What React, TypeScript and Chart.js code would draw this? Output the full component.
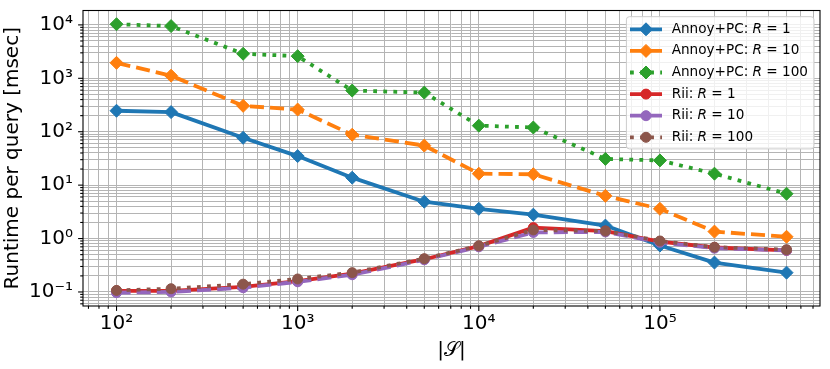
import React, { useEffect, useRef } from 'react';
import { Chart, registerables } from 'chart.js';

Chart.register(...registerables);

// ---------------- data ----------------
const sizes = [100, 200, 500, 1000, 2000, 5000, 10000, 20000, 50000, 100000, 200000, 500000];
const annoyR1 = [247, 233, 77, 35, 13.8, 4.9, 3.6, 2.8, 1.75, 0.74, 0.355, 0.23];
const annoyR10 = [1950, 1120, 305, 260, 88, 55, 16.4, 16, 6.3, 3.6, 1.35, 1.08];
const annoyR100 = [10300, 9500, 2880, 2600, 590, 540, 130, 120, 31, 29, 16.4, 6.9];
const riiR1 = [0.105, 0.105, 0.125, 0.16, 0.22, 0.41, 0.72, 1.6, 1.38, 0.88, 0.68, 0.6];
const riiR10 = [0.097, 0.1, 0.12, 0.155, 0.21, 0.4, 0.7, 1.3, 1.33, 0.85, 0.66, 0.6];
const riiR100 = [0.107, 0.115, 0.14, 0.175, 0.23, 0.42, 0.73, 1.45, 1.38, 0.9, 0.69, 0.62];

const seriesLabels = [
  'Annoy+PC: R = 1',
  'Annoy+PC: R = 10',
  'Annoy+PC: R = 100',
  'Rii: R = 1',
  'Rii: R = 10',
  'Rii: R = 100',
];
const seriesValues = [annoyR1, annoyR10, annoyR100, riiR1, riiR10, riiR100];

const xTickValues = [1e2, 1e3, 1e4, 1e5];
const xTickLabels = ['10²', '10³', '10⁴', '10⁵'];
const yTickValues = [1e-1, 1, 10, 100, 1000, 10000];
const yTickLabels = ['10⁻¹', '10⁰', '10¹', '10²', '10³', '10⁴'];

const xTitle = '|𝒮|';
const yTitle = 'Runtime per query [msec]';

// ---------------- styles ----------------
const X_MIN = 65.3;
const X_MAX = 765000;
const Y_MIN = 0.0546;
const Y_MAX = 18600;

const FONT = '"DejaVu Sans", Verdana, sans-serif';
const LW = 3.8;
const DASHED = [3.7 * LW, 1.6 * LW];
const DOTTED = [1 * LW, 1.65 * LW];
const styles = [
  { color: '#1f77b4', dash: [] as number[], point: 'rectRot', r: 6.5 },
  { color: '#ff7f0e', dash: DASHED, point: 'rectRot', r: 6.5 },
  { color: '#2ca02c', dash: DOTTED, point: 'rectRot', r: 6.5 },
  { color: '#d62728', dash: [] as number[], point: 'circle', r: 5 },
  { color: '#9467bd', dash: DASHED, point: 'circle', r: 5 },
  { color: '#8c564b', dash: DOTTED, point: 'circle', r: 5 },
];

function isMajor(v: number, majors: number[]) {
  return majors.some((t) => Math.abs(Math.log10(t) - Math.log10(v)) < 1e-6);
}
function labelFor(v: number, majors: number[], labels: string[]) {
  const i = majors.findIndex((t) => Math.abs(Math.log10(t) - Math.log10(v)) < 1e-6);
  return i >= 0 ? labels[i] : '';
}
function logGridTicks(min: number, max: number) {
  const out: { value: number }[] = [];
  for (let e = Math.floor(Math.log10(min)); e <= Math.ceil(Math.log10(max)); e++) {
    for (let m = 1; m <= 9; m++) {
      const v = m * Math.pow(10, e);
      if (v >= min && v <= max) out.push({ value: v });
    }
  }
  return out;
}

const axesDecor = {
  id: 'axesDecor',
  afterDatasetsDraw(chart: any) {
    const { ctx, chartArea: a, scales } = chart;
    ctx.save();
    ctx.strokeStyle = '#000';
    ctx.lineWidth = 1.1;
    ctx.setLineDash([]);
    const xs = scales.x;
    for (const t of xs.ticks) {
      const p = xs.getPixelForValue(t.value);
      const len = isMajor(t.value, xTickValues) ? 4.9 : 2.8;
      ctx.beginPath();
      ctx.moveTo(p, a.bottom);
      ctx.lineTo(p, a.bottom + len);
      ctx.stroke();
    }
    const ys = scales.y;
    for (const t of ys.ticks) {
      const p = ys.getPixelForValue(t.value);
      const len = isMajor(t.value, yTickValues) ? 4.9 : 2.8;
      ctx.beginPath();
      ctx.moveTo(a.left, p);
      ctx.lineTo(a.left - len, p);
      ctx.stroke();
    }
    ctx.strokeRect(a.left, a.top, a.right - a.left, a.bottom - a.top);
    ctx.restore();
  },
};

const mplLegend = {
  id: 'mplLegend',
  afterDraw(chart: any) {
    const { ctx, chartArea: a } = chart;
    const ds = chart.data.datasets;
    const fs = 13.6;
    const normal = `${fs}px ${FONT}`;
    const italic = `italic ${fs}px ${FONT}`;
    ctx.save();
    const parts = ds.map((d: any) => {
      const m = /^(.*?: )R(.*)$/.exec(d.label);
      const pre = m ? m[1] : d.label;
      const post = m ? m[2] : '';
      ctx.font = normal;
      const w1 = ctx.measureText(pre).width;
      const w3 = ctx.measureText(post).width;
      ctx.font = italic;
      const w2 = m ? ctx.measureText('R').width : 0;
      return { pre, post, hasR: !!m, w1, w2, w3, w: w1 + w2 + w3 };
    });
    const maxW = Math.max(...parts.map((p: any) => p.w));
    const right = a.right - 6;
    const left = right - 6 - maxW - 45.3;
    const top = a.top + 6.2;
    const rowH = 21.6;
    const bottom = top + 12.6 * 2 + rowH * (ds.length - 1) - 1;
    // box
    const r = 3;
    ctx.beginPath();
    ctx.moveTo(left + r, top);
    ctx.lineTo(right - r, top);
    ctx.arcTo(right, top, right, top + r, r);
    ctx.lineTo(right, bottom - r);
    ctx.arcTo(right, bottom, right - r, bottom, r);
    ctx.lineTo(left + r, bottom);
    ctx.arcTo(left, bottom, left, bottom - r, r);
    ctx.lineTo(left, top + r);
    ctx.arcTo(left, top, left + r, top, r);
    ctx.closePath();
    ctx.fillStyle = 'rgba(255,255,255,0.8)';
    ctx.fill();
    ctx.strokeStyle = '#cccccc';
    ctx.lineWidth = 1;
    ctx.stroke();

    ds.forEach((d: any, i: number) => {
      const y = top + 12.6 + i * rowH;
      const hx0 = left + 3.6;
      const hx1 = left + 35.6;
      const cx = (hx0 + hx1) / 2;
      ctx.strokeStyle = d.borderColor;
      ctx.lineWidth = d.borderWidth;
      ctx.setLineDash(d.borderDash || []);
      ctx.lineCap = 'butt';
      ctx.beginPath();
      ctx.moveTo(hx0, y);
      ctx.lineTo(hx1, y);
      ctx.stroke();
      ctx.setLineDash([]);
      ctx.fillStyle = d.pointBackgroundColor;
      ctx.strokeStyle = d.pointBorderColor;
      ctx.lineWidth = 1;
      ctx.beginPath();
      const pr = d.pointRadius;
      if (d.pointStyle === 'rectRot') {
        ctx.moveTo(cx - pr, y);
        ctx.lineTo(cx, y - pr);
        ctx.lineTo(cx + pr, y);
        ctx.lineTo(cx, y + pr);
        ctx.closePath();
      } else {
        ctx.arc(cx, y, pr, 0, Math.PI * 2);
      }
      ctx.fill();
      ctx.stroke();
      // text
      const p = parts[i];
      let tx = left + 45.3;
      ctx.fillStyle = '#000';
      ctx.textBaseline = 'middle';
      ctx.textAlign = 'left';
      ctx.font = normal;
      ctx.fillText(p.pre, tx, y);
      tx += p.w1;
      if (p.hasR) {
        ctx.font = italic;
        ctx.fillText('R', tx, y);
        tx += p.w2;
        ctx.font = normal;
        ctx.fillText(p.post, tx, y);
      }
    });
    ctx.restore();
  },
};

export default function App() {
  const ref = useRef<HTMLCanvasElement>(null);
  useEffect(() => {
    if (!ref.current) return;
    const datasets = seriesValues.map((vals, i) => ({
      label: seriesLabels[i],
      data: sizes.map((x, j) => ({ x, y: vals[j] })),
      borderColor: styles[i].color,
      backgroundColor: styles[i].color,
      borderWidth: LW,
      borderDash: styles[i].dash,
      borderCapStyle: 'butt' as const,
      borderJoinStyle: 'round' as const,
      pointStyle: styles[i].point,
      pointRadius: styles[i].r,
      pointBackgroundColor: styles[i].color,
      pointBorderColor: styles[i].color,
      pointBorderWidth: 1,
      fill: false,
      tension: 0,
      order: seriesValues.length - i,
    }));
    const chart = new Chart(ref.current, {
      type: 'line',
      data: { datasets },
      plugins: [axesDecor, mplLegend],
      options: {
        responsive: false,
        animation: false,
        devicePixelRatio: 1,
        layout: { padding: { top: 10.5, right: 10, left: 0, bottom: 0 } },
        plugins: { legend: { display: false }, tooltip: { enabled: false } },
        scales: {
          x: {
            type: 'logarithmic',
            min: X_MIN,
            max: X_MAX,
            bounds: 'data',
            afterFit: (s: any) => {
              s.height = 63;
              s.paddingLeft = 0;
              s.paddingRight = 0;
            },
            afterBuildTicks: (s: any) => {
              s.ticks = logGridTicks(X_MIN, X_MAX);
            },
            ticks: {
              autoSkip: false,
              maxRotation: 0,
              padding: 5.3,
              color: '#000',
              font: { family: FONT, size: 20 },
              callback: (v: any) => labelFor(Number(v), xTickValues, xTickLabels),
            },
            grid: { color: '#b4b4b4', lineWidth: 1, drawTicks: false },
            border: { display: false },
            title: {
              display: true,
              text: xTitle,
              color: '#000',
              font: { family: FONT, size: 20, lineHeight: 1 },
              padding: { top: 0, bottom: 8 },
            },
          },
          y: {
            type: 'logarithmic',
            min: Y_MIN,
            max: Y_MAX,
            bounds: 'data',
            afterFit: (s: any) => {
              s.width = 83;
              s.paddingTop = 0;
              s.paddingBottom = 0;
            },
            afterBuildTicks: (s: any) => {
              s.ticks = logGridTicks(Y_MIN, Y_MAX);
            },
            ticks: {
              autoSkip: false,
              padding: 10,
              color: '#000',
              font: { family: FONT, size: 20 },
              callback: (v: any) => labelFor(Number(v), yTickValues, yTickLabels),
            },
            grid: { color: '#b4b4b4', lineWidth: 1, drawTicks: false },
            border: { display: false },
            title: {
              display: true,
              text: yTitle,
              color: '#000',
              font: { family: FONT, size: 20, lineHeight: 1 },
              padding: { top: 3, bottom: 0 },
            },
          },
        },
      } as any,
    });
    return () => chart.destroy();
  }, []);
  return (
    <div style={{ position: 'absolute', left: 0, top: 0, width: 830, height: 369 }}>
      <canvas ref={ref} width={830} height={369} style={{ display: 'block' }} />
    </div>
  );
}
